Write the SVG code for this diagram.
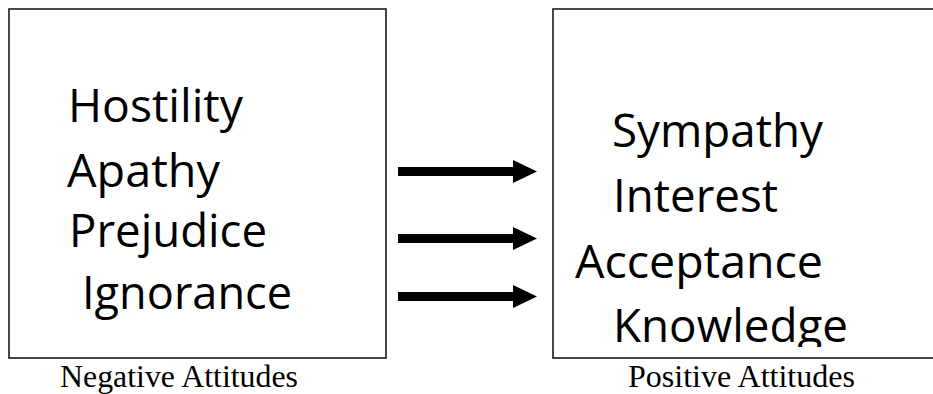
<svg xmlns="http://www.w3.org/2000/svg" width="933" height="394" viewBox="0 0 933 394">
  <style>
    .box { fill: #fff; stroke: #1a1a1a; stroke-width: 1.6; }
    .word { font-family: "Open Sans", "Noto Sans", sans-serif; font-size: 46px; fill: #000; }
    .cap { font-family: "Liberation Serif", "Times New Roman", serif; font-size: 31px; fill: #000; }
    .shaft { stroke: #000; stroke-width: 9; }
    .head { fill: #000; }
  </style>
  <defs>
    <clipPath id="rightClip">
      <rect x="553" y="9" width="400" height="338"/>
    </clipPath>
  </defs>
  <rect width="933" height="394" fill="#fff"/>

  <g id="negative">
    <rect class="box" x="9" y="9" width="377" height="349"/>
    <text class="word" x="68" y="122" textLength="175" lengthAdjust="spacingAndGlyphs">Hostility</text>
    <text class="word" x="67" y="187" textLength="153" lengthAdjust="spacingAndGlyphs">Apathy</text>
    <text class="word" x="69" y="247" textLength="198" lengthAdjust="spacingAndGlyphs">Prejudice</text>
    <text class="word" x="82" y="309" textLength="210" lengthAdjust="spacingAndGlyphs">Ignorance</text>
    <text class="cap" x="60" y="387" textLength="238" lengthAdjust="spacingAndGlyphs">Negative Attitudes</text>
  </g>

  <g id="positive">
    <rect class="box" x="553" y="9" width="400" height="349"/>
    <g clip-path="url(#rightClip)">
      <text class="word" x="612" y="147" textLength="211" lengthAdjust="spacingAndGlyphs">Sympathy</text>
      <text class="word" x="613" y="212" textLength="165" lengthAdjust="spacingAndGlyphs">Interest</text>
      <text class="word" x="575" y="278" textLength="248" lengthAdjust="spacingAndGlyphs">Acceptance</text>
      <text class="word" x="613" y="342" textLength="235" lengthAdjust="spacingAndGlyphs">Knowledge</text>
    </g>
    <text class="cap" x="628" y="387" textLength="227" lengthAdjust="spacingAndGlyphs">Positive Attitudes</text>
  </g>

  <g id="connectors">
    <line class="shaft" x1="398" y1="171.5" x2="515" y2="171.5"/>
    <polygon class="head" points="513,160 537,171.5 513,183"/>
    <line class="shaft" x1="398" y1="238.5" x2="515" y2="238.5"/>
    <polygon class="head" points="513,227 537,238.5 513,250"/>
    <line class="shaft" x1="398" y1="296.5" x2="515" y2="296.5"/>
    <polygon class="head" points="513,285 537,296.5 513,308"/>
  </g>
</svg>
